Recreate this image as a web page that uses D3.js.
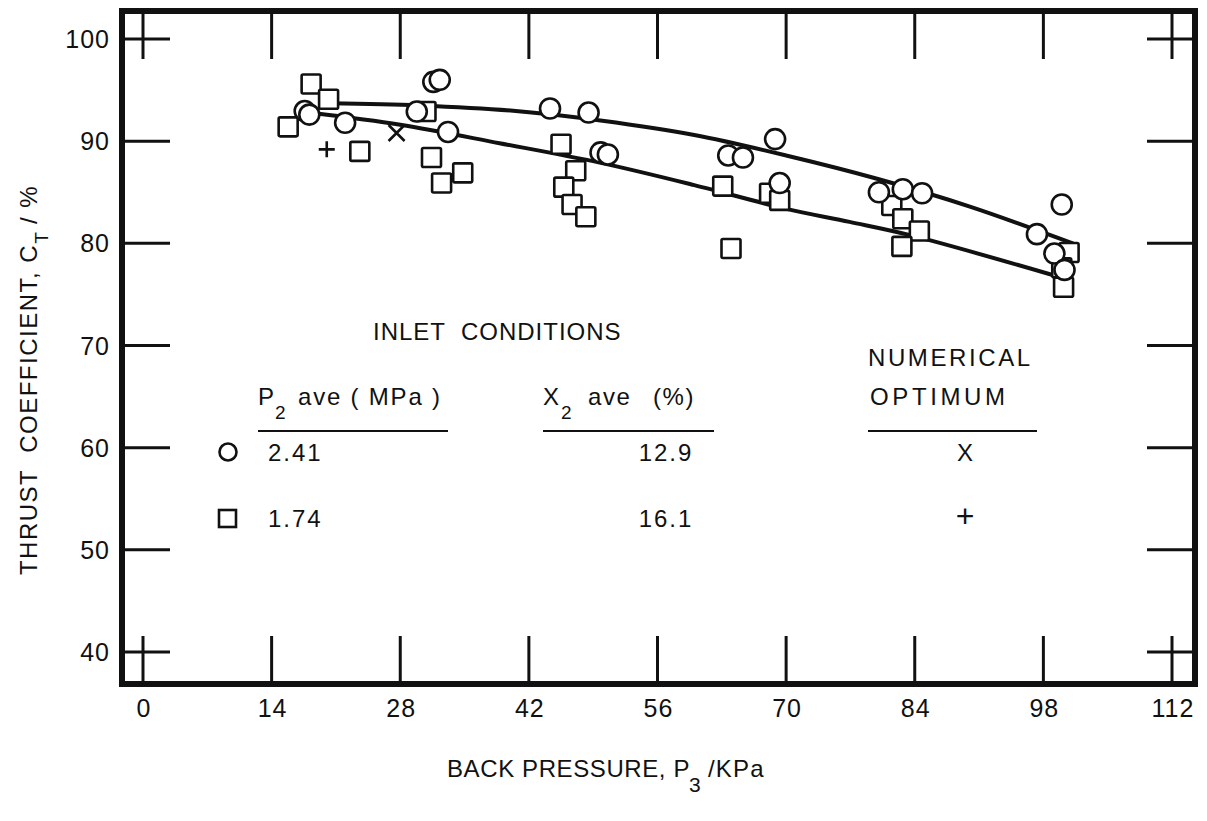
<!DOCTYPE html>
<html>
<head>
<meta charset="utf-8">
<script src="https://cdn.jsdelivr.net/npm/d3@7/dist/d3.min.js"></script>
<style>
  html, body { margin: 0; padding: 0; background: #fff; }
  svg { display: block; }
  text { font-family: "Liberation Sans", Arial, sans-serif; fill: #111; white-space: pre; }
</style>
</head>
<body>
<svg id="chart" width="1207" height="821"></svg>
<script>
// ---- data ----
const xTicks = [0, 14, 28, 42, 56, 70, 84, 98, 112];
const yTicks = [40, 50, 60, 70, 80, 90, 100];

// P2 ave = 2.41 MPa (circles)
const circleX = [17.6, 18.1, 22.0, 29.8, 31.6, 32.3, 33.2, 44.3, 48.5, 49.8, 50.6, 63.7, 65.3, 68.8, 69.3, 80.1, 82.7, 84.8, 97.3, 99.2, 100.0, 100.3];
const circleY = [92.95, 92.6, 91.8, 92.9, 95.8, 96.0, 90.9, 93.2, 92.8, 88.9, 88.7, 88.6, 88.4, 90.2, 85.9, 85.0, 85.3, 84.9, 80.9, 79.0, 83.8, 77.4];

// P2 ave = 1.74 MPa (squares)
const squareX = [15.8, 18.3, 20.2, 23.6, 30.8, 31.4, 32.5, 34.8, 45.5, 47.1, 45.8, 46.7, 48.2, 63.1, 64.0, 68.2, 69.3, 81.5, 82.7, 84.5, 82.6, 100.8, 100.0, 100.2];
const squareY = [91.4, 95.6, 94.1, 89.0, 92.9, 88.4, 85.9, 86.9, 89.7, 87.1, 85.5, 83.8, 82.6, 85.6, 79.5, 84.9, 84.2, 83.7, 82.4, 81.2, 79.7, 79.1, 77.6, 75.7];

// numerical optimum points
const optCrossX = [27.6], optCrossY = [90.8];   // "X"  (2.41 MPa)
const optPlusX = [20.0],  optPlusY = [89.2];    // "+"  (1.74 MPa)

// faired curves
const upperCurveX = [20.3, 30, 40, 50, 60, 70, 80, 90, 101.2];
const upperCurveY = [93.7, 93.5, 93.0, 92.0, 90.6, 88.6, 86.3, 83.6, 80.0];
const lowerCurveX = [18.5, 28, 38.8, 49.7, 60, 69.9, 76.9, 83.5, 99.0];
const lowerCurveY = [92.75, 91.6, 89.8, 87.9, 85.7, 83.4, 82.1, 80.8, 76.9];

// legend table
const legendP2 = ["2.41", "1.74"];
const legendX2 = ["12.9", "16.1"];
const legendOpt = ["X", "+"];

// ---- drawing ----
const svg = d3.select("#chart");
const x = d3.scaleLinear().domain([0, 112]).range([143, 1172]);
const y = d3.scaleLinear().domain([40, 100]).range([652, 39]);

const frame = { left: 122, right: 1195, top: 11, bottom: 684 };
const tickLen = 48;
const ink = "#111";

// ticks
const tg = svg.append("g").attr("stroke", ink).attr("stroke-width", 3);
yTicks.forEach(v => {
  tg.append("line").attr("x1", frame.left).attr("x2", frame.left + tickLen).attr("y1", y(v)).attr("y2", y(v));
  tg.append("line").attr("x1", frame.right).attr("x2", frame.right - tickLen).attr("y1", y(v)).attr("y2", y(v));
});
xTicks.forEach(v => {
  tg.append("line").attr("x1", x(v)).attr("x2", x(v)).attr("y1", frame.top).attr("y2", frame.top + tickLen);
  tg.append("line").attr("x1", x(v)).attr("x2", x(v)).attr("y1", frame.bottom).attr("y2", frame.bottom - tickLen);
});

// frame
svg.append("rect")
  .attr("x", frame.left).attr("y", frame.top)
  .attr("width", frame.right - frame.left).attr("height", frame.bottom - frame.top)
  .attr("fill", "none").attr("stroke", ink).attr("stroke-width", 6);

// tick labels
svg.append("g").selectAll("text").data(xTicks).join("text")
  .attr("x", d => x(d) + 1).attr("y", 717)
  .attr("text-anchor", "middle").attr("font-size", 25).attr("letter-spacing", 1)
  .text(d => d);
svg.append("g").selectAll("text").data(yTicks).join("text")
  .attr("x", 110).attr("y", d => y(d) + 9)
  .attr("text-anchor", "end").attr("font-size", 25).attr("letter-spacing", 1)
  .text(d => d);

// curves
const line = d3.line().x(d => x(d[0])).y(d => y(d[1])).curve(d3.curveCatmullRom.alpha(0.5));
[[upperCurveX, upperCurveY], [lowerCurveX, lowerCurveY]].forEach(([xs, ys]) => {
  svg.append("path")
    .attr("d", line(xs.map((v, i) => [v, ys[i]])))
    .attr("fill", "none").attr("stroke", ink).attr("stroke-width", 4).attr("stroke-linecap", "round");
});

// markers
const mk = svg.append("g").attr("stroke", ink).attr("stroke-width", 2.6).attr("fill", "#fff");
squareX.forEach((v, i) => {
  mk.append("rect").attr("x", x(v) - 9.5).attr("y", y(squareY[i]) - 9.5)
    .attr("width", 19).attr("height", 19).attr("rx", 1.5);
});
circleX.forEach((v, i) => {
  mk.append("circle").attr("cx", x(v)).attr("cy", y(circleY[i])).attr("r", 10);
});
optCrossX.forEach((v, i) => {
  const cx = x(v), cy = y(optCrossY[i]), s = 8;
  svg.append("path").attr("d", `M${cx - s},${cy - s}L${cx + s},${cy + s}M${cx + s},${cy - s}L${cx - s},${cy + s}`)
    .attr("stroke", ink).attr("stroke-width", 2.6);
});
optPlusX.forEach((v, i) => {
  const cx = x(v), cy = y(optPlusY[i]), s = 8;
  svg.append("path").attr("d", `M${cx - s},${cy}L${cx + s},${cy}M${cx},${cy - s}L${cx},${cy + s}`)
    .attr("stroke", ink).attr("stroke-width", 2.6);
});

// legend / annotation
const fs = 24;
function txt(xp, yp, s, opts = {}) {
  return svg.append("text").attr("x", xp).attr("y", yp)
    .attr("font-size", opts.size || fs)
    .attr("letter-spacing", opts.ls === undefined ? 1.5 : opts.ls)
    .attr("text-anchor", opts.anchor || "start")
    .text(s);
}
txt(373, 340, "INLET  CONDITIONS", { ls: 1.0 });

// column headers with subscripts
txt(258, 405, "P", { ls: 0 });
txt(275, 419, "2", { size: 19, ls: 0 });
txt(298, 405, "ave ( MPa )", { ls: 1.8 });

txt(543, 405, "X", { ls: 0 });
txt(561, 419, "2", { size: 19, ls: 0 });
txt(588, 405, "ave", { ls: 1.6 });
txt(653, 405, "(%)", { ls: 1.6 });

txt(868, 366, "NUMERICAL", { ls: 2.6 });
txt(870, 405, "OPTIMUM", { ls: 3.6 });

const ul = svg.append("g").attr("stroke", ink).attr("stroke-width", 2);
[[258, 448], [543, 714], [868, 1037]].forEach(([a, b]) => {
  ul.append("line").attr("x1", a).attr("x2", b).attr("y1", 431).attr("y2", 431);
});

// legend markers
svg.append("circle").attr("cx", 228).attr("cy", 452).attr("r", 8.5)
  .attr("fill", "#fff").attr("stroke", ink).attr("stroke-width", 2.6);
svg.append("rect").attr("x", 219).attr("y", 510).attr("width", 17).attr("height", 17)
  .attr("fill", "#fff").attr("stroke", ink).attr("stroke-width", 2.6);

const rowY = [461, 527];
legendP2.forEach((t, i) => txt(268, rowY[i], t, { ls: 2 }));
legendX2.forEach((t, i) => txt(666, rowY[i], t, { anchor: "middle", ls: 2 }));
legendOpt.forEach((t, i) => txt(965, rowY[i], t, { anchor: "middle", ls: 0, size: i === 1 ? 32 : fs }));

// axis titles
txt(447, 777, "BACK PRESSURE, P", { ls: 0.6 });
txt(689, 792, "3", { size: 21, ls: 0 });
txt(708, 777, "/KPa", { ls: 1.2 });

const yt = svg.append("text").attr("transform", "translate(37,380) rotate(-90)")
  .attr("text-anchor", "middle").attr("font-size", 24).attr("letter-spacing", 1.5);
yt.append("tspan").text("THRUST  COEFFICIENT, C");
yt.append("tspan").attr("dy", 11).attr("font-size", 19).attr("letter-spacing", 0).text("T");
yt.append("tspan").attr("dy", -11).text(" / %");
</script>
</body>
</html>
